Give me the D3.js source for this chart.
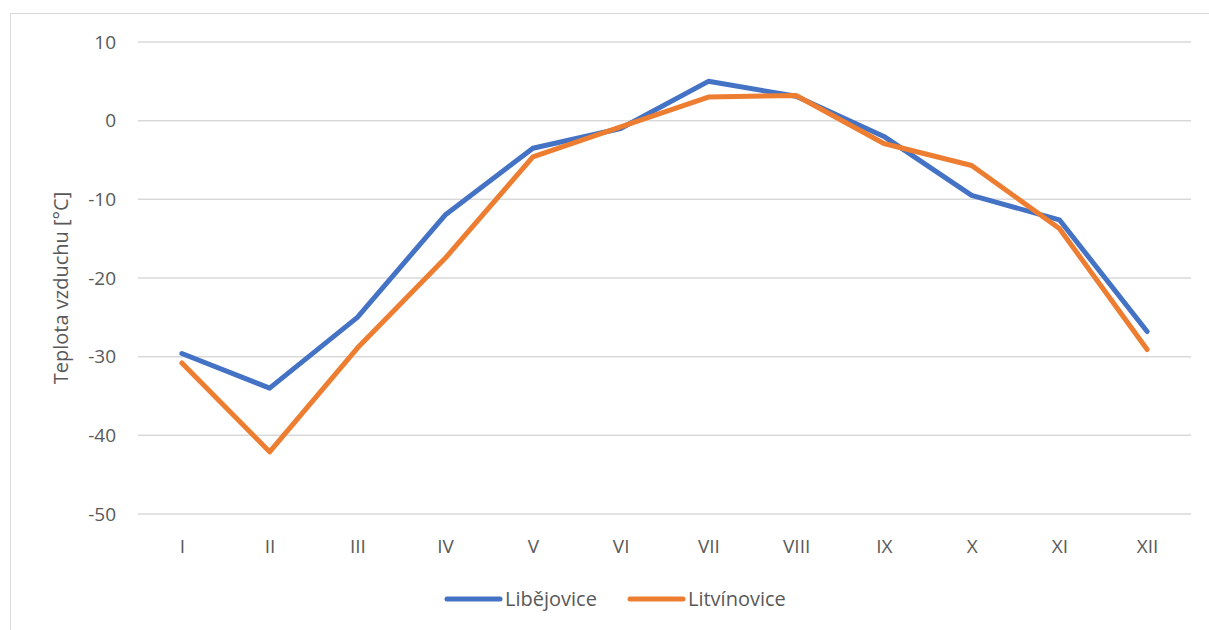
<!DOCTYPE html>
<html>
<head>
<meta charset="utf-8">
<script src="https://cdn.jsdelivr.net/npm/d3@7"></script>
<style>
  html, body { margin: 0; padding: 0; background: #fff; }
  svg { display: block; font-family: "Open Sans", "Liberation Sans", sans-serif; }
</style>
</head>
<body>
<svg id="chart" width="1209" height="630"></svg>
<script>
// Monthly air temperature (°C) for two stations
const months = ["I", "II", "III", "IV", "V", "VI", "VII", "VIII", "IX", "X", "XI", "XII"];
const libejovice = [-29.6, -34.0, -25.0, -12.0, -3.5, -1.0, 5.0, 3.1, -2.0, -9.5, -12.6, -26.8];
const litvinovice = [-30.8, -42.1, -28.9, -17.5, -4.6, -0.8, 3.0, 3.2, -2.9, -5.7, -13.7, -29.1];
const yTicks = [10, 0, -10, -20, -30, -40, -50];
const seriesNames = ["Libějovice", "Litvínovice"];
const colors = ["#4472C4", "#ED7D31"];

const svg = d3.select("#chart");
const textColor = "#595959";

// chart area frame
svg.append("rect")
  .attr("x", 10.5).attr("y", 13.5)
  .attr("width", 1300).attr("height", 700)
  .attr("fill", "#fff")
  .attr("stroke", "#d9d9d9").attr("stroke-width", 1);

const plot = { left: 138, right: 1191, top: 42, bottom: 514 };

const x = d3.scalePoint()
  .domain(months)
  .range([plot.left, plot.right])
  .padding(0.5);

const y = d3.scaleLinear()
  .domain([-50, 10])
  .range([plot.bottom, plot.top]);

// horizontal gridlines
svg.append("g")
  .selectAll("line")
  .data(yTicks)
  .join("line")
  .attr("x1", plot.left).attr("x2", plot.right)
  .attr("y1", d => y(d)).attr("y2", d => y(d))
  .attr("stroke", "#d9d9d9").attr("stroke-width", 1.5);

// y axis labels (plain hyphen for negatives)
const yAxis = d3.axisLeft(y).tickValues(yTicks).tickSize(0).tickPadding(0)
  .tickFormat(d => String(d));
const gy = svg.append("g").attr("transform", `translate(${plot.left - 22},0)`).call(yAxis);
gy.select(".domain").remove();
gy.selectAll("text")
  .attr("fill", textColor)
  .style("font-size", "19px")
  .style("font-family", "\"Open Sans\", sans-serif");

// x axis labels
const xAxis = d3.axisBottom(x).tickSize(0).tickPadding(0);
const gx = svg.append("g").attr("transform", `translate(0,${plot.bottom + 25})`).call(xAxis);
gx.select(".domain").remove();
gx.selectAll("text")
  .attr("fill", textColor)
  .attr("dy", "0.71em")
  .style("font-size", "19px")
  .style("font-family", "\"Open Sans\", sans-serif");

// y axis title
svg.append("text")
  .attr("transform", `translate(68,${(plot.top + plot.bottom) / 2 + 10}) rotate(-90)`)
  .attr("text-anchor", "middle")
  .attr("fill", textColor)
  .style("font-size", "20px")
  .text("Teplota vzduchu [°C]");

// series lines
const line = d3.line()
  .x((d, i) => x(months[i]))
  .y(d => y(d));

[libejovice, litvinovice].forEach((vals, k) => {
  svg.append("path")
    .datum(vals)
    .attr("d", line)
    .attr("fill", "none")
    .attr("stroke", colors[k])
    .attr("stroke-width", 5)
    .attr("stroke-linejoin", "round")
    .attr("stroke-linecap", "round");
});

// legend
const legendX = [447, 630];
const lg = svg.append("g");
seriesNames.forEach((name, k) => {
  lg.append("line")
    .attr("x1", legendX[k]).attr("x2", legendX[k] + 53)
    .attr("y1", 599).attr("y2", 599)
    .attr("stroke", colors[k]).attr("stroke-width", 5)
    .attr("stroke-linecap", "round");
  lg.append("text")
    .attr("x", legendX[k] + 58).attr("y", 599)
    .attr("dy", "0.35em")
    .attr("fill", textColor)
    .style("font-size", "20px")
    .text(name);
});
</script>
</body>
</html>
